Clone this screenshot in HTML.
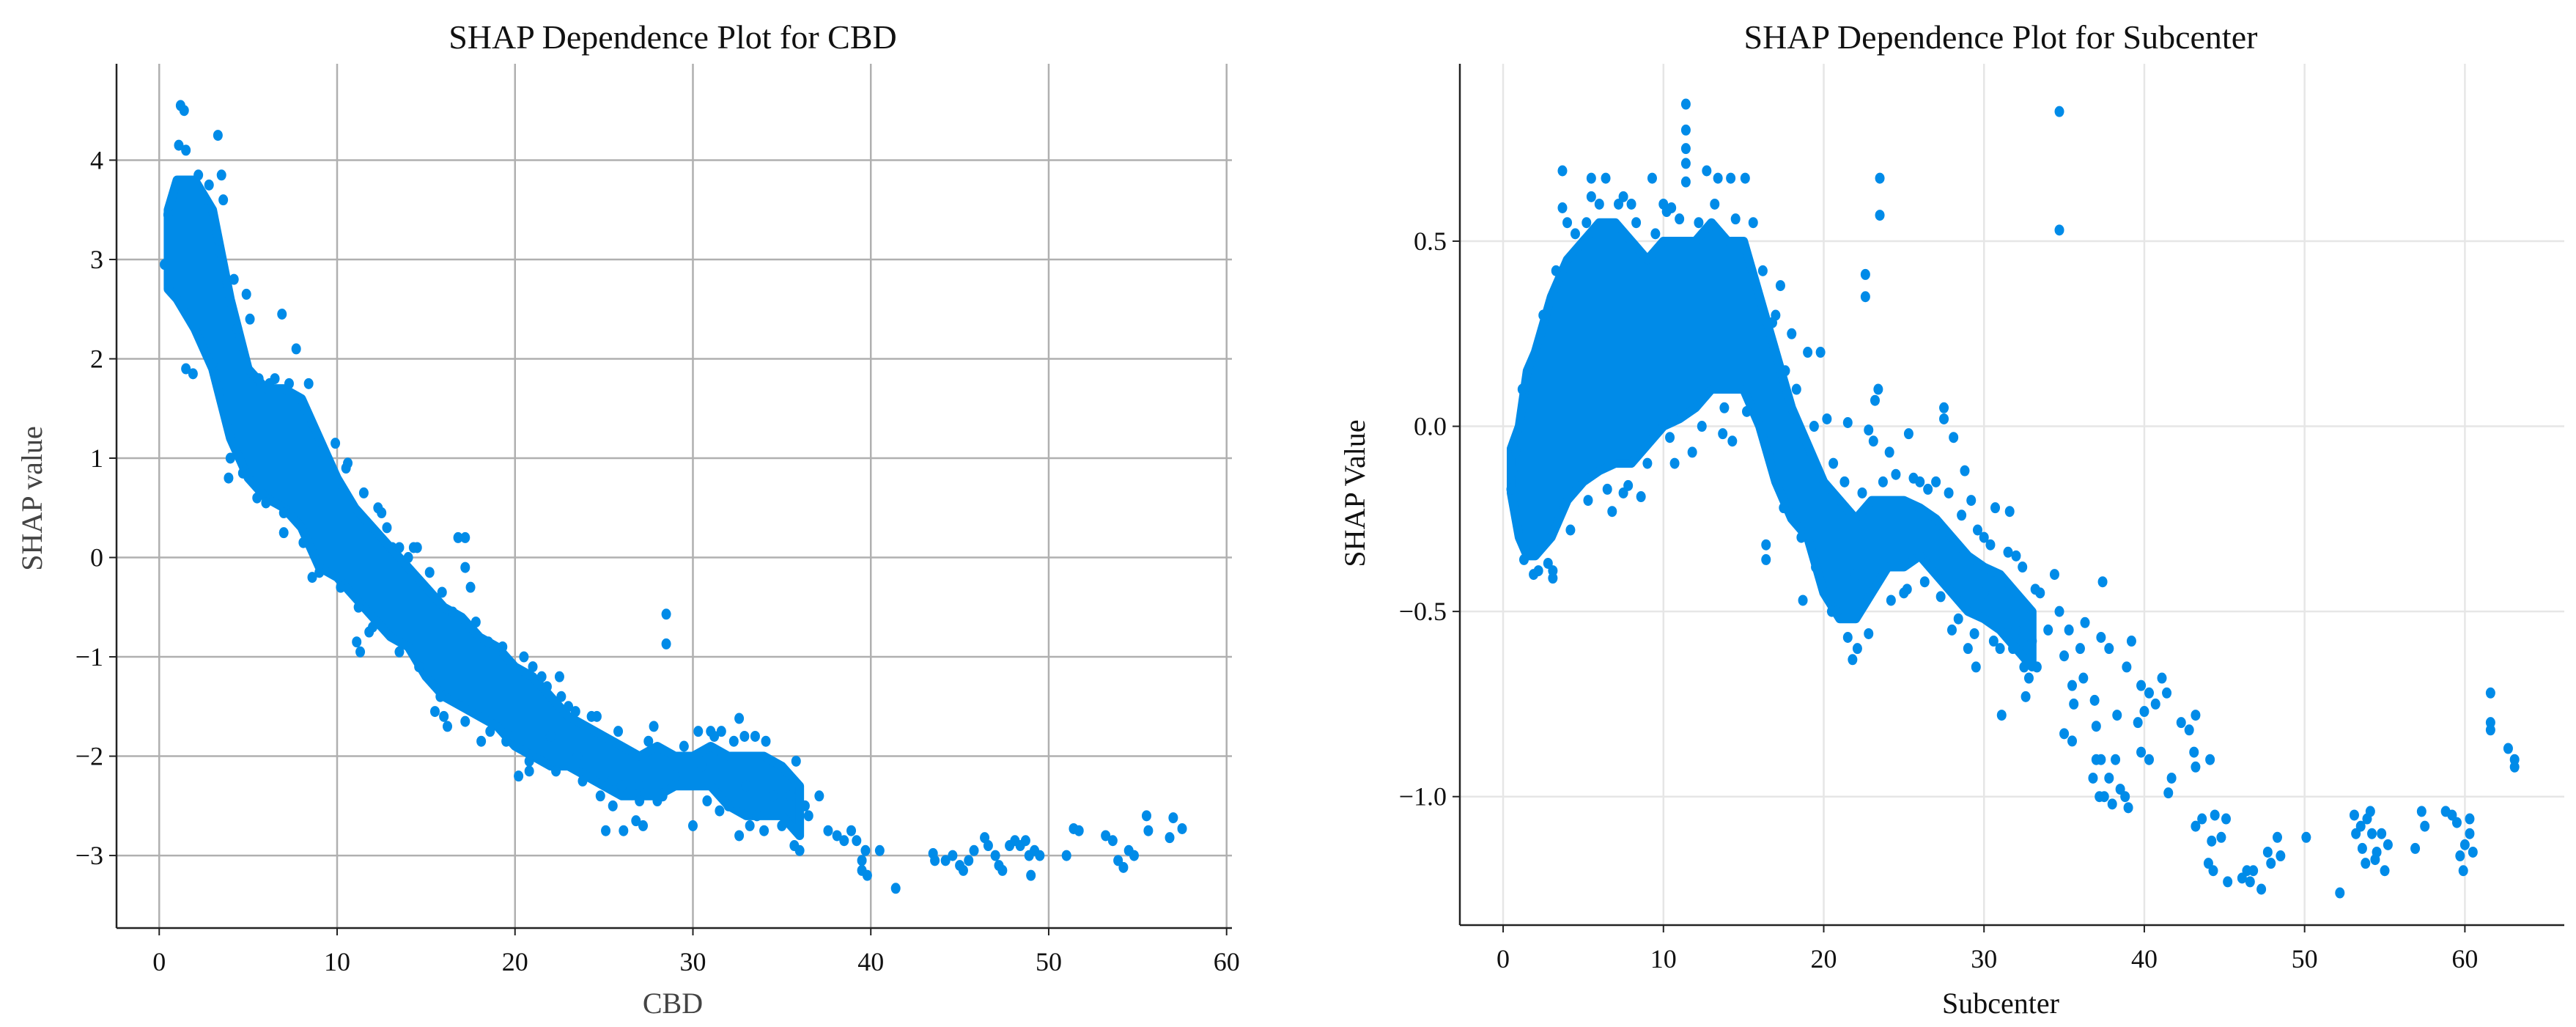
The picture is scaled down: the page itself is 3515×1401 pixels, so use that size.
<!DOCTYPE html>
<html><head><meta charset="utf-8"><style>
html,body{margin:0;padding:0;background:#fff;}
svg{display:block;}
text{font-family:"Liberation Serif","DejaVu Serif",serif;}
</style></head><body>
<svg id="chart" width="3515" height="1401" viewBox="0 0 3515 1401">
<g id="left"></g>
<g id="right"></g>
</svg>
<script>
// ---- CBD panel data ----
const cbdXTicks = [0,10,20,30,40,50,60];
const cbdYTicks = [-3,-2,-1,0,1,2,3,4];
const cbdYTickLabels = ["\u22123","\u22122","\u22121","0","1","2","3","4"];
const cbdBandX  = [0.5,1,2,3,4,5,6,7,8,9,10,11,12,13,14,15,16,17,18,19,20,21,22,23,24,25,26,27,28,29,30,31,32,33,34,35,36];
const cbdBandLo = [2.7,2.6,2.3,1.9,1.2,0.8,0.6,0.5,0.3,-0.1,-0.2,-0.4,-0.6,-0.8,-0.9,-1.2,-1.4,-1.5,-1.6,-1.7,-1.9,-2.0,-2.1,-2.1,-2.2,-2.3,-2.4,-2.4,-2.4,-2.3,-2.3,-2.3,-2.5,-2.6,-2.6,-2.6,-2.8];
const cbdBandHi = [3.5,3.8,3.8,3.5,2.6,1.9,1.7,1.7,1.6,1.2,0.8,0.5,0.3,0.1,-0.1,-0.3,-0.5,-0.6,-0.8,-0.9,-1.1,-1.2,-1.4,-1.6,-1.7,-1.8,-1.9,-2.0,-1.9,-2.0,-2.0,-1.9,-2.0,-2.0,-2.0,-2.1,-2.3];
const cbdPtsX = [1.2,1.4,1.5,1.1,3.3,0.5,0.3,0.6,1.9,1.5,3.5,2.6,4.2,4.9,5.1,6.9,7.7,3.9,4.7,7.0,8.6,10.5,11.1,11.3,11.8,12.5,13.1,14,14.5,16.8,17.2,17.2,17.5,15.5,16,18.1,19.8,20.2,20.8,21,21.5,22.5,23,24.6,25.1,26.1,25.5,26.8,27.2,27.8,28.5,28.5,28.3,30,30.3,31,31.6,32.6,32.9,33.5,34.1,31.5,32,32.6,33.2,34,35,35.7,36,36.5,37.1,37.6,38.1,38.5,38.9,39.2,39.5,39.5,39.8,39.7,40.5,41.4,43.5,43.6,44.2,44.6,45,45.2,45.5,45.8,46.4,46.6,47,47.2,47.4,47.8,48.1,48.4,48.7,48.9,49,49.2,49.5,51,51.4,51.7,53.2,53.6,53.9,54.2,54.5,54.8,55.5,55.6,56.8,57,57.5,22,23.5,24,25,26,27,29,30.5,33,34.5,35.5,36.3,
  2.2,2.8,3.2,3.6,4.4,5.6,6.2,6.5,7.3,8.2,8.4,9.3,9.9,10.6,11.5,12.3,12.8,13.5,14.3,15.2,15.9,16.5,17.8,18.5,19.3,20.5,21.8,22.6,23.4,24.3,25.8,27.5,29.5,31.2,32.3,35.8,
  3.0,4.0,5.5,6.0,7.0,8.1,9.0,10.2,11.2,12.0,13.5,14.6,15.8,16.2,17.2,18.6,19.5,20.8,22.3,23.8,24.8,27.0,28.0,30.8,33.6];
const cbdPtsY = [4.55,4.5,4.1,4.15,4.25,3.45,2.95,2.75,1.85,1.9,3.85,3.6,2.8,2.65,2.4,2.45,2.1,0.8,0.85,0.25,-0.2,0.9,-0.85,-0.95,-0.75,0.45,0.1,0,0.1,0.2,0.2,-0.1,-0.3,-1.55,-1.6,-1.85,-1.8,-2.2,-2.15,-1.1,-1.2,-1.2,-1.5,-1.6,-2.75,-2.75,-2.5,-2.65,-2.7,-1.7,-0.57,-0.87,-2.4,-2.7,-1.75,-1.75,-1.75,-1.62,-1.8,-1.8,-1.85,-2.55,-2.5,-2.8,-2.7,-2.75,-2.7,-2.9,-2.95,-2.6,-2.4,-2.75,-2.8,-2.85,-2.75,-2.85,-3.05,-3.15,-3.2,-2.95,-2.95,-3.33,-2.98,-3.05,-3.05,-3.0,-3.1,-3.15,-3.05,-2.95,-2.82,-2.9,-3.0,-3.1,-3.15,-2.9,-2.85,-2.9,-2.85,-3.0,-3.2,-2.95,-3.0,-3.0,-2.73,-2.75,-2.8,-2.85,-3.05,-3.12,-2.95,-3.0,-2.6,-2.75,-2.82,-2.62,-2.73,-1.8,-2.0,-2.2,-2.2,-2.3,-2.3,-2.2,-2.1,-2.3,-2.4,-2.4,-2.5,
  3.85,3.75,3.1,3.6,2.3,1.8,1.75,1.8,1.75,1.5,1.75,1.05,1.15,0.95,0.65,0.5,0.3,0.1,0.1,-0.15,-0.35,-0.55,-0.65,-0.85,-0.9,-1.0,-1.3,-1.4,-1.55,-1.6,-1.75,-1.85,-1.9,-1.8,-1.85,-2.05,
  1.95,1.0,0.6,0.55,0.45,0.15,-0.15,-0.3,-0.5,-0.7,-0.95,-1.1,-1.4,-1.7,-1.65,-1.75,-1.85,-2.05,-2.15,-2.25,-2.4,-2.45,-2.45,-2.45,-2.6];

// ---- Subcenter panel data ----
const subXTicks = [0,10,20,30,40,50,60];
const subYTicks = [-1.0,-0.5,0.0,0.5];
const subYTickLabels = ["\u22121.0","\u22120.5","0.0","0.5"];
const subBandX  = [0.5,1,1.5,2,3,4,5,6,7,8,9,10,11,12,13,14,15,16,17,18,19,20,21,22,23,24,25,26,27,28,29,30,31,32,33];
const subBandLo = [-0.18,-0.3,-0.35,-0.35,-0.3,-0.2,-0.15,-0.12,-0.1,-0.1,-0.05,0.0,0.02,0.05,0.1,0.1,0.1,0.0,-0.15,-0.25,-0.3,-0.45,-0.52,-0.52,-0.45,-0.38,-0.38,-0.35,-0.4,-0.45,-0.5,-0.52,-0.55,-0.6,-0.65];
const subBandHi = [-0.06,0.0,0.15,0.2,0.35,0.45,0.5,0.55,0.55,0.5,0.45,0.5,0.5,0.5,0.55,0.5,0.5,0.35,0.2,0.05,-0.05,-0.15,-0.2,-0.25,-0.2,-0.2,-0.2,-0.22,-0.25,-0.3,-0.35,-0.38,-0.4,-0.45,-0.5];
const subPtsX = [0.5,0.6,0.8,1.9,2.2,3.1,3.1,3.7,3.7,5.5,6.4,5.5,9.3,10,10.5,11.4,11.4,11.4,11.4,11.4,12.7,13.4,14.2,15.1,6.8,7.5,8.6,10.7,11.8,13.7,14.3,16.4,16.4,17.3,18.7,19.8,20.2,21.5,21.8,22.1,22.6,22.6,23.5,23.5,23.2,23.4,22.8,23.1,24.1,25.3,27.5,27.5,28.1,28.8,29.2,30.7,31.6,31.1,32.6,32.5,33.3,33.5,34.4,34.7,34.7,34.7,35,35.3,35.5,35,35.6,36,36.3,36.2,35.5,36.9,37,37.3,37.4,37.8,36.8,37,37.3,37.2,37.5,37.8,38,38.2,38.5,38.8,39,38.3,38.9,39.2,39.6,39.8,40,40.3,40.7,41.1,41.4,39.8,40.3,41.5,41.7,42.3,42.8,43.2,43.1,43.2,44.1,43.2,43.6,44.4,44.2,44,44.3,44.8,45.1,45.2,46.1,46.4,46.6,46.8,47.3,47.7,47.9,48.3,48.5,50.1,52.2,53.1,53.2,53.5,53.6,53.9,54.1,54.2,53.8,54.5,54.8,55,55.2,54.4,56.9,57.3,57.5,58.8,59.2,59.5,59.7,59.9,60,60.3,60.5,60.3,61.6,61.6,61.6,62.7,63.1,63.1,22,20.5,25,26,28,29,29.5,30,31,32,33,34,30,32,27,26,18,19,17,4,7.5,8,
  1.2,2.5,3.3,4.5,5.2,6.0,7.2,8.3,9.5,10.2,11.0,12.2,13.2,14.5,15.6,16.2,16.8,17.6,18.3,19.4,20.6,21.3,22.4,23.7,24.5,25.6,26.5,27.8,28.6,29.6,30.4,31.5,32.4,33.2,
  1.3,2.8,4.2,5.3,6.5,7.8,9.0,10.4,12.4,13.8,15.2,16.6,17.5,18.6,19.5,20.8,21.5,22.8,24.2,25.2,26.3,27.3,28.4,29.4,30.6,31.8,32.8];
const subPtsY = [-0.17,-0.12,-0.07,-0.4,-0.39,-0.41,-0.39,0.69,0.59,0.67,0.67,0.62,0.67,0.6,0.59,0.87,0.8,0.75,0.71,0.66,0.69,0.67,0.67,0.67,-0.23,-0.18,-0.19,-0.1,-0.07,-0.02,-0.04,-0.32,-0.36,0.38,-0.47,0.2,0.02,0.01,-0.63,-0.6,0.41,0.35,0.67,0.57,0.07,0.1,-0.01,-0.04,-0.07,-0.02,0.05,0.02,-0.03,-0.12,-0.2,-0.22,-0.23,-0.78,-0.73,-0.65,-0.65,-0.45,-0.4,0.85,0.53,-0.5,-0.62,-0.55,-0.7,-0.83,-0.75,-0.6,-0.53,-0.68,-0.85,-0.74,-0.81,-0.57,-0.42,-0.6,-0.95,-0.9,-0.9,-1.0,-1.0,-0.95,-1.02,-0.9,-0.98,-1.0,-1.03,-0.78,-0.65,-0.58,-0.8,-0.7,-0.77,-0.72,-0.75,-0.68,-0.72,-0.88,-0.9,-0.99,-0.95,-0.8,-0.82,-0.78,-0.88,-0.92,-0.9,-1.08,-1.06,-1.05,-1.12,-1.18,-1.2,-1.11,-1.06,-1.23,-1.22,-1.2,-1.23,-1.2,-1.25,-1.15,-1.18,-1.11,-1.16,-1.11,-1.26,-1.05,-1.1,-1.08,-1.14,-1.06,-1.04,-1.1,-1.18,-1.15,-1.1,-1.2,-1.13,-1.17,-1.14,-1.04,-1.08,-1.04,-1.05,-1.07,-1.16,-1.2,-1.13,-1.1,-1.15,-1.06,-0.72,-0.8,-0.82,-0.87,-0.9,-0.92,-0.4,-0.5,-0.45,-0.35,-0.55,-0.6,-0.65,-0.45,-0.6,-0.55,-0.58,-0.55,-0.3,-0.35,-0.15,-0.15,0.25,0.2,0.3,0.55,0.62,0.6,
  0.1,0.3,0.42,0.52,0.55,0.6,0.6,0.55,0.52,0.58,0.56,0.55,0.6,0.56,0.55,0.42,0.28,0.15,0.1,0.0,-0.1,-0.15,-0.18,-0.15,-0.13,-0.14,-0.17,-0.18,-0.24,-0.28,-0.32,-0.34,-0.38,-0.44,
  -0.36,-0.37,-0.28,-0.2,-0.17,-0.16,-0.1,-0.03,0.0,0.05,0.04,-0.08,-0.22,-0.3,-0.38,-0.5,-0.57,-0.56,-0.47,-0.44,-0.42,-0.46,-0.52,-0.56,-0.58,-0.6,-0.68];

const NS = "http://www.w3.org/2000/svg";
const BLUE = "#008be8";
function mk(parent, tag, attrs){ const e=document.createElementNS(NS,tag); for(const k in attrs) e.setAttribute(k,attrs[k]); parent.appendChild(e); return e; }

function panel(g, cfg){
  const sx = v => cfg.px0 + (v - cfg.xmin)/(cfg.xmax-cfg.xmin)*(cfg.px1-cfg.px0);
  const sy = v => cfg.py1 - (v - cfg.ymin)/(cfg.ymax-cfg.ymin)*(cfg.py1-cfg.py0);
  cfg.xTicks.forEach(t=>{
    const l = mk(g,'line',{x1:sx(t),x2:sx(t),y1:cfg.py0,y2:cfg.py1,stroke:cfg.grid,'stroke-width':cfg.gw});
    
    
  });
  cfg.yTicks.forEach(t=>{
    const l = mk(g,'line',{x1:cfg.px0,x2:cfg.px1,y1:sy(t),y2:sy(t),stroke:cfg.grid,'stroke-width':cfg.gw});
    
    
  });
  let pts=[];
  cfg.bandX.forEach((x,i)=>pts.push(sx(x)+','+sy(cfg.bandHi[i])));
  for(let i=cfg.bandX.length-1;i>=0;i--) pts.push(sx(cfg.bandX[i])+','+sy(cfg.bandLo[i]));
  const band = mk(g,'polygon',{points:pts.join(' '),fill:BLUE,stroke:BLUE,'stroke-width':12,'stroke-linejoin':'round'});
  
  
  cfg.ptsX.forEach((x,i)=>{
    const c = mk(g,'ellipse',{cx:sx(x),cy:sy(cfg.ptsY[i]),rx:6.5,ry:7.5,fill:BLUE});
    
    
  });
  const ys = mk(g,'line',{x1:cfg.px0,x2:cfg.px0,y1:cfg.py0,y2:cfg.py1,stroke:'#222','stroke-width':2.5});
  
  
  const xs = mk(g,'line',{x1:cfg.px0,x2:cfg.px1,y1:cfg.py1,y2:cfg.py1,stroke:'#222','stroke-width':2.5});
  
  
  cfg.xTicks.forEach(t=>{
    const tk = mk(g,'line',{x1:sx(t),x2:sx(t),y1:cfg.py1,y2:cfg.py1+10,stroke:'#222','stroke-width':2});
    
    
    const tx = mk(g,'text',{x:sx(t),y:cfg.py1+58,'font-size':36,'text-anchor':'middle',fill:'#111'});
    tx.textContent = String(t);
    
    
  });
  cfg.yTicks.forEach((t,i)=>{
    const tk = mk(g,'line',{x1:cfg.px0-10,x2:cfg.px0,y1:sy(t),y2:sy(t),stroke:'#222','stroke-width':2});
    
    
    const tx = mk(g,'text',{x:cfg.px0-18,y:sy(t)+12,'font-size':36,'text-anchor':'end',fill:'#111'});
    tx.textContent = cfg.yLabels[i];
    
    
  });
  const title = mk(g,'text',{x:cfg.tx,y:66,'font-size':46,'text-anchor':'middle',fill:'#111'});
  title.textContent = cfg.title;
  
  
  const xl = mk(g,'text',{x:cfg.tx,y:1382,'font-size':40,'text-anchor':'middle',fill:cfg.labColor});
  xl.textContent = cfg.xlabel;
  
  
  const yl = mk(g,'text',{x:0,y:0,'font-size':40,'text-anchor':'middle',fill:cfg.labColor,transform:`translate(${cfg.ylx},${cfg.yly}) rotate(-90)`});
  yl.textContent = cfg.ylabel;
  
  
}

panel(document.getElementById('left'),{
  px0:159,px1:1681,py0:87,py1:1266,xmin:-2.4,xmax:60.3,ymin:-3.73,ymax:4.97,
  xTicks:cbdXTicks,yTicks:cbdYTicks,yLabels:cbdYTickLabels,
  bandX:cbdBandX,bandLo:cbdBandLo,bandHi:cbdBandHi,ptsX:cbdPtsX,ptsY:cbdPtsY,
  grid:'#b0b0b0',gw:2.5,title:'SHAP Dependence Plot for CBD',xlabel:'CBD',ylabel:'SHAP value',
  tx:918,ylx:57,yly:680,labColor:'#444'
});
panel(document.getElementById('right'),{
  px0:1992,px1:3499,py0:87,py1:1262,xmin:-2.7,xmax:66.2,ymin:-1.347,ymax:0.979,
  xTicks:subXTicks,yTicks:subYTicks,yLabels:subYTickLabels,
  bandX:subBandX,bandLo:subBandLo,bandHi:subBandHi,ptsX:subPtsX,ptsY:subPtsY,
  grid:'#e6e6e6',gw:2.5,title:'SHAP Dependence Plot for Subcenter',xlabel:'Subcenter',ylabel:'SHAP Value',
  tx:2730,ylx:1862,yly:673,labColor:'#111'
});
</script>
</body></html>
